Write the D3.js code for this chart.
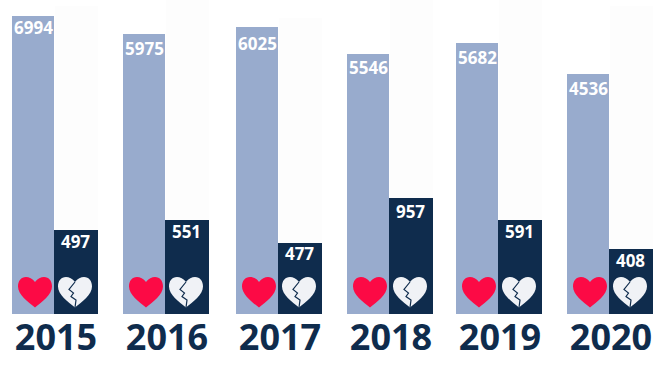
<!DOCTYPE html>
<html>
<head>
<meta charset="utf-8">
<script src="https://cdnjs.cloudflare.com/ajax/libs/d3/7.8.5/d3.min.js"></script>
<style>
html, body { margin: 0; padding: 0; background: #fff; }
svg { display: block; font-family: "Open Sans", sans-serif; font-weight: 700; }
</style>
</head>
<body>
<div id="chart"></div>
<script>
var years = ["2015", "2016", "2017", "2018", "2019", "2020"];
// Printed numbers
var marriages = [6994, 5975, 6025, 5546, 5682, 4536];
var divorces = [497, 551, 477, 957, 591, 408];
// The bars in the picture are not proportional to their labels, so the
// drawn heights are read off separately, in px above the baseline
var marriageHeights = [298, 280, 287, 260, 271, 240];
var divorceHeights = [84, 94, 71, 116, 94, 65];
var trackHeights = [308, 314, 296, 314, 314, 308];

var width = 665,
    height = 378,
    navy = "#0f2c4d",
    blue = "#98abcd",
    red = "#fc0a45",
    pale = "#f0f2f6";

// Left edge of each year group
var groupX = [12, 123, 236, 347, 456, 567];
// Label drop below the bar top, it isn't the same for every bar
var marriageDrop = [18, 20.5, 23, 20, 21, 21];
var divorceDrop = [18, 18, 17, 20, 18, 18];

var y = d3.scaleLinear().domain([0, 314]).range([314, 0]);
var inner = d3.scaleBand().domain(["marriage", "divorce"]).range([0, 86]);

var svg = d3.select("#chart").append("svg")
    .attr("width", width)
    .attr("height", height);

var group = svg.selectAll("g.year")
    .data(years)
    .enter().append("g")
    .attr("class", "year")
    .attr("transform", function (d, i) { return "translate(" + groupX[i] + ",0)"; });

// Very faint track behind the divorce bar
group.append("rect")
    .attr("x", inner("divorce"))
    .attr("y", function (d, i) { return y(trackHeights[i]); })
    .attr("width", inner.bandwidth())
    .attr("height", function (d, i) { return y(0) - y(trackHeights[i]); })
    .attr("fill", "#fdfdfd");

group.append("rect")
    .attr("x", inner("marriage"))
    .attr("y", function (d, i) { return y(marriageHeights[i]); })
    .attr("width", inner.bandwidth() - 1)
    .attr("height", function (d, i) { return y(0) - y(marriageHeights[i]); })
    .attr("fill", blue);

group.append("rect")
    .attr("x", inner("divorce") - 1)
    .attr("y", function (d, i) { return y(divorceHeights[i]); })
    .attr("width", inner.bandwidth() + 1)
    .attr("height", function (d, i) { return y(0) - y(divorceHeights[i]); })
    .attr("fill", navy);

group.append("text")
    .attr("x", 21.5)
    .attr("y", function (d, i) { return y(marriageHeights[i]) + marriageDrop[i]; })
    .attr("text-anchor", "middle")
    .attr("font-size", 17)
    .attr("fill", "#fff")
    .text(function (d, i) { return marriages[i]; });

group.append("text")
    .attr("x", 63.5)
    .attr("y", function (d, i) { return y(divorceHeights[i]) + divorceDrop[i]; })
    .attr("text-anchor", "middle")
    .attr("font-size", 17)
    .attr("fill", "#fff")
    .text(function (d, i) { return divorces[i]; });

// Heart outline, 34 wide and 31 high
var heart = "M0 -19C-2.5 -22.5 -6 -24 -9 -24C-14 -24 -17 -20 -17 -14.5C-17 -6.5 -7 1 0 6.5C7 1 17 -6.5 17 -14.5C17 -20 14 -24 9 -24C6 -24 2.5 -22.5 0 -19Z";
var crack = "M0 -19L-6 -11.5L-1.5 -8L-4 -4.5L1 -1L0 6.5";

group.append("path")
    .attr("d", heart)
    .attr("transform", "translate(23,301)")
    .attr("fill", red);

group.append("path")
    .attr("d", heart)
    .attr("transform", "translate(63,301)")
    .attr("fill", pale);

group.append("path")
    .attr("d", crack)
    .attr("transform", "translate(63,301)")
    .attr("fill", "none")
    .attr("stroke", navy)
    .attr("stroke-width", 1.2);

group.append("text")
    .attr("x", 44)
    .attr("y", 349.5)
    .attr("text-anchor", "middle")
    .attr("font-size", 36)
    .attr("fill", navy)
    .text(function (d) { return d; });
</script>
</body>
</html>
